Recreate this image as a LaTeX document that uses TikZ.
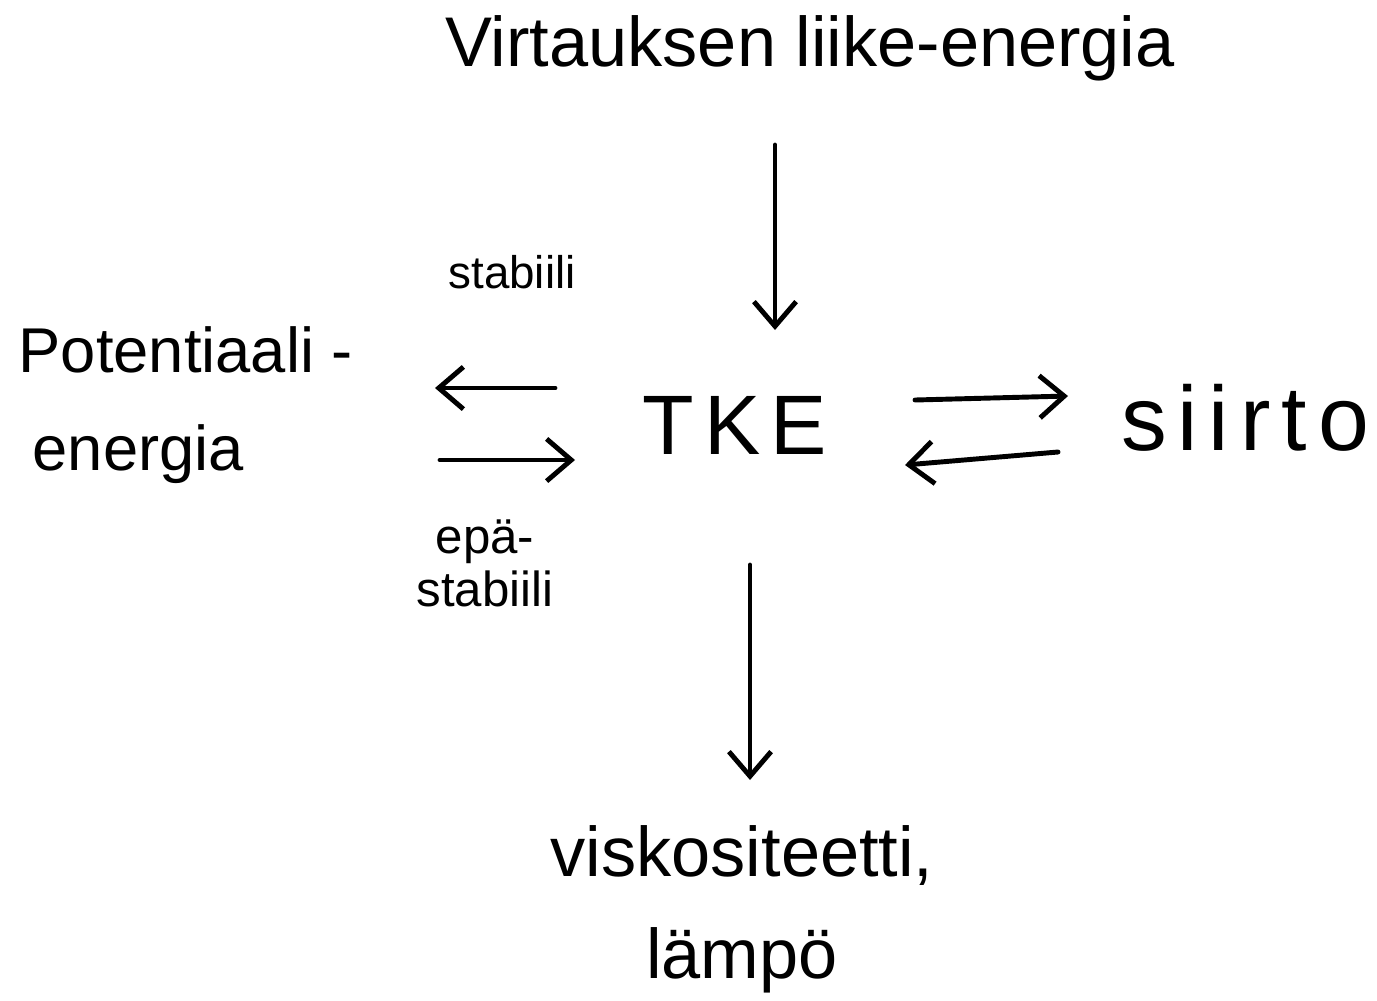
\documentclass[tikz,border=0pt]{standalone}
\usepackage{fontspec}
\setmainfont{Liberation Sans}
\usetikzlibrary{arrows.meta}
\tikzset{
  arr/.style={line width=1.4pt, line cap=round, -{Straight Barb[length=7pt,width=12pt,line width=1.4pt]}},
  lbl/.style={inner sep=0pt, text=black}
}
\begin{document}
\begin{tikzpicture}[x=0.01cm,y=-0.01cm]
\useasboundingbox[fill=white] (0,0) rectangle (1377,1000);
% nodes
\node[lbl, font=\fontsize{20}{24}\selectfont] (title) at (810,48) {Virtauksen liike-energia};
\node[lbl, font=\fontsize{24}{28}\selectfont\addfontfeatures{LetterSpace=12}] (tke) at (735,425) {TKE};
\node[lbl, font=\fontsize{18}{28}\selectfont, align=left, anchor=west] (pot) at (18,405) {Potentiaali -\\\hspace{4pt}energia};
\node[lbl, font=\fontsize{26}{30}\selectfont\addfontfeatures{LetterSpace=12}] (siirto) at (1245,418) {siirto};
\node[lbl, font=\fontsize{20}{29}\selectfont, align=center] (visk) at (742,909) {viskositeetti,\\lämpö};
\node[lbl, font=\fontsize{13}{16}\selectfont] (stab) at (512,272) {stabiili};
\node[lbl, font=\fontsize{14}{15}\selectfont, align=center] (epa) at (485,563) {epä-\\stabiili};
% arrow end coordinates
\coordinate (d1s) at (775,145);
\coordinate (d1e) at (775,330);
\coordinate (l1s) at (555,388);
\coordinate (l1e) at (435,388);
\coordinate (r1s) at (440,460);
\coordinate (r1e) at (575,460);
\coordinate (r2s) at (915,400);
\coordinate (r2e) at (1068,396);
\coordinate (l2s) at (1058,452);
\coordinate (l2e) at (905,465);
\coordinate (d2s) at (750,565);
\coordinate (d2e) at (750,780);
% connectors
\draw[arr] (d1s) -- (d1e);
\draw[arr] (l1s) -- (l1e);
\draw[arr] (r1s) -- (r1e);
\draw[arr] (r2s) -- (r2e);
\draw[arr] (l2s) -- (l2e);
\draw[arr] (d2s) -- (d2e);
\end{tikzpicture}
\end{document}
